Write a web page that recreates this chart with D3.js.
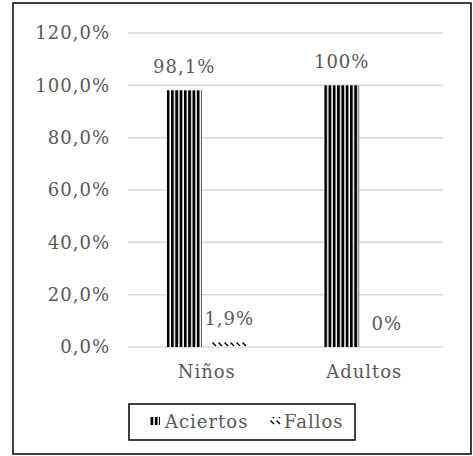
<!DOCTYPE html>
<html>
<head>
<meta charset="utf-8">
<script src="https://cdn.jsdelivr.net/npm/d3@7"></script>
<style>
  body { margin: 0; background: #fff; }
  text { font-family: "DejaVu Serif", serif; fill: #595959; letter-spacing: 1px; }
</style>
</head>
<body>
<div id="chart"></div>
<script>
const categories = ["Niños", "Adultos"];
const series = ["Aciertos", "Fallos"];
const aciertos = [98.1, 100];
const fallos = [1.9, 0];
const aciertosLabels = ["98,1%", "100%"];
const fallosLabels = ["1,9%", "0%"];
const yTicks = [0, 20, 40, 60, 80, 100, 120];

const width = 473, height = 456;
const plot = { left: 128, right: 443, top: 33, bottom: 347 };

const svg = d3.select("#chart").append("svg")
    .attr("width", width)
    .attr("height", height);

const defs = svg.append("defs");

// vertical stripes for Aciertos
const pv = defs.append("pattern")
    .attr("id", "vstripes")
    .attr("patternUnits", "userSpaceOnUse")
    .attr("width", 4.3)
    .attr("height", 10);
pv.append("rect").attr("width", 4.3).attr("height", 10).attr("fill", "#fff");
pv.append("rect").attr("width", 2.8).attr("height", 10).attr("fill", "#000");

// small diagonal dashes for Fallos
const pd = defs.append("pattern")
    .attr("id", "ddash")
    .attr("patternUnits", "userSpaceOnUse")
    .attr("width", 6)
    .attr("height", 6);
pd.append("rect").attr("width", 6).attr("height", 6).attr("fill", "#fff");
pd.append("path").attr("d", "M0.5,0.5 L4,4").attr("stroke", "#000").attr("stroke-width", 1.4);

// outer border
svg.append("rect")
    .attr("x", 13).attr("y", 3)
    .attr("width", 458).attr("height", 451)
    .attr("fill", "none")
    .attr("stroke", "#000")
    .attr("stroke-width", 1.5);

const x0 = d3.scaleBand()
    .domain(categories)
    .range([plot.left, plot.right]);

const x1 = d3.scaleBand()
    .domain(series)
    .range([0, x0.bandwidth()])
    .paddingInner(0.227)
    .paddingOuter(0.86);

const y = d3.scaleLinear()
    .domain([0, 120])
    .range([plot.bottom, plot.top]);

// gridlines
svg.append("g")
    .selectAll("line")
    .data(yTicks)
    .enter().append("line")
    .attr("x1", plot.left)
    .attr("x2", plot.right)
    .attr("y1", function(d) { return y(d); })
    .attr("y2", function(d) { return y(d); })
    .attr("stroke", "#d9d9d9")
    .attr("stroke-width", 1.5);

// y axis labels
const yAxis = svg.append("g")
    .attr("transform", "translate(" + (plot.left - 18) + ",0)")
    .call(d3.axisLeft(y).tickValues(yTicks).tickSize(0).tickPadding(0)
        .tickFormat(function(d) { return d3.format(".1f")(d).replace(".", ",") + "%"; }));
yAxis.select(".domain").remove();
yAxis.selectAll("text")
    .style("font-family", "DejaVu Serif, serif")
    .style("font-size", "18px")
    .attr("fill", "#595959");

// x axis labels
const xAxis = svg.append("g")
    .attr("transform", "translate(0," + plot.bottom + ")")
    .call(d3.axisBottom(x0).tickSize(0).tickPadding(18));
xAxis.select(".domain").remove();
xAxis.selectAll("text")
    .style("font-family", "DejaVu Serif, serif")
    .style("font-size", "18px")
    .attr("fill", "#595959");

// bars
const groups = svg.selectAll(".grp")
    .data(categories)
    .enter().append("g")
    .attr("class", "grp")
    .attr("transform", function(d) { return "translate(" + x0(d) + ",0)"; });

groups.append("rect")
    .attr("x", x1("Aciertos"))
    .attr("y", function(d, i) { return y(aciertos[i]); })
    .attr("width", x1.bandwidth())
    .attr("height", function(d, i) { return plot.bottom - y(aciertos[i]); })
    .attr("fill", "url(#vstripes)");

groups.append("rect")
    .attr("x", x1("Fallos"))
    .attr("y", function(d, i) { return y(fallos[i]); })
    .attr("width", x1.bandwidth())
    .attr("height", function(d, i) { return plot.bottom - y(fallos[i]); })
    .attr("fill", "url(#ddash)");

// value labels
groups.append("text")
    .attr("x", x1("Aciertos") + x1.bandwidth() / 2)
    .attr("y", function(d, i) { return y(aciertos[i]) - 17; })
    .attr("text-anchor", "middle")
    .style("font-size", "18px")
    .text(function(d, i) { return aciertosLabels[i]; });

groups.append("text")
    .attr("x", x1("Fallos") + x1.bandwidth() / 2)
    .attr("y", function(d, i) { return y(fallos[i]) - 17; })
    .attr("text-anchor", "middle")
    .style("font-size", "18px")
    .text(function(d, i) { return fallosLabels[i]; });

// legend
const legend = svg.append("g");
legend.append("rect")
    .attr("x", 129).attr("y", 404)
    .attr("width", 226).attr("height", 36)
    .attr("fill", "#fff")
    .attr("stroke", "#000")
    .attr("stroke-width", 1.5);

const legendItems = [
    { name: series[0], fill: "url(#vstripes)", x: 150, w: 10, tx: 165 },
    { name: series[1], fill: "url(#ddash)", x: 270, w: 11, tx: 284 }
];
legendItems.forEach(function(item) {
    legend.append("rect")
        .attr("x", item.x).attr("y", 417)
        .attr("width", item.w).attr("height", 8)
        .attr("fill", item.fill);
    legend.append("text")
        .attr("x", item.tx)
        .attr("y", 428)
        .style("font-size", "18px")
        .text(item.name);
});
</script>
</body>
</html>
